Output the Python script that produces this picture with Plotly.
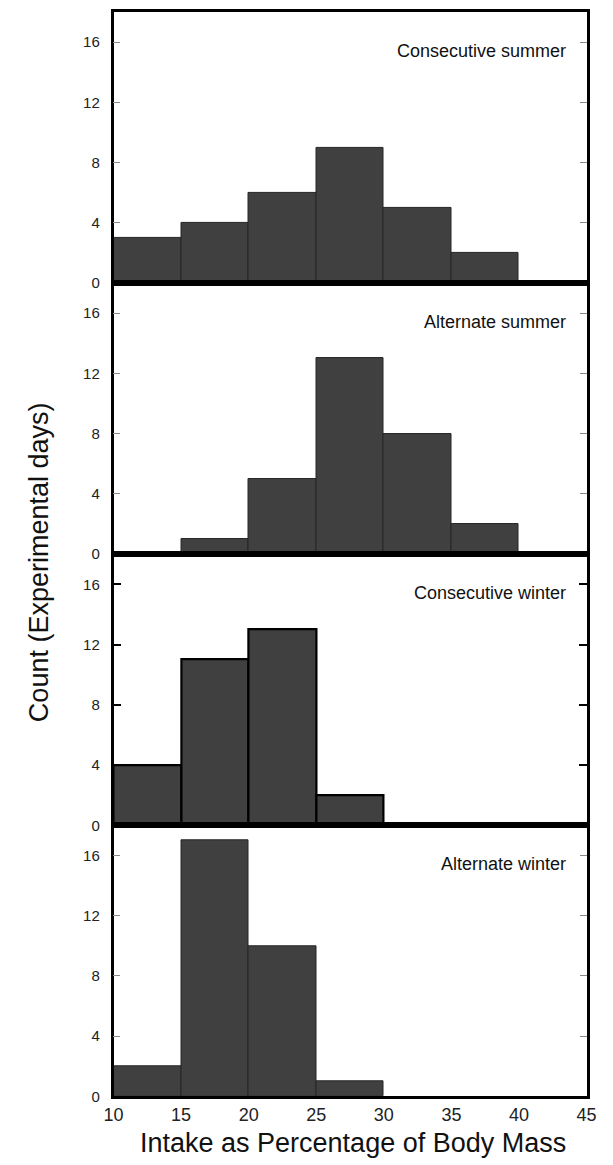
import plotly.graph_objects as go

# Data
bin_centers = [12.5, 17.5, 22.5, 27.5, 32.5, 37.5]
panel_labels = ["Consecutive summer", "Alternate summer", "Consecutive winter", "Alternate winter"]
consecutive_summer = [3, 4, 6, 9, 5, 2]
alternate_summer = [0, 1, 5, 13, 8, 2]
consecutive_winter = [4, 11, 13, 2, 0, 0]
alternate_winter = [2, 17, 10, 1, 0, 0]
y_ticks = [0, 4, 8, 12, 16]
x_ticks = [10, 15, 20, 25, 30, 35, 40, 45]

series = [consecutive_summer, alternate_summer, consecutive_winter, alternate_winter]

W, H = 613, 1165
left_px, right_px = 107, 596
top_px, panel_h = 12, 273

FONT = "Liberation Sans, Arial, sans-serif"
BAR = "#404040"

fig = go.Figure()
for i, vals in enumerate(series):
    n = i + 1
    thick = (i == 2)
    lw = 2.2 if thick else 1
    fig.add_trace(go.Bar(
        x=bin_centers, y=vals, width=5,
        marker=dict(color=BAR, line=dict(color="#000000" if thick else "#262626",
                                         width=[lw if v > 0 else 0 for v in vals])),
        xaxis=f"x{n}" if n > 1 else "x", yaxis=f"y{n}" if n > 1 else "y",
        showlegend=False, hoverinfo="x+y"))

    t = top_px + panel_h * i
    b = t + panel_h
    ydom = [1 - b / H, 1 - t / H]
    xkey = "xaxis" if n == 1 else f"xaxis{n}"
    ykey = "yaxis" if n == 1 else f"yaxis{n}"
    fig.layout[xkey] = dict(
        domain=[left_px / W, right_px / W], range=[10, 45],
        anchor="y" if n == 1 else f"y{n}",
        showgrid=False, zeroline=False,
        showline=True, linecolor="black", linewidth=2.5, mirror=True,
        tickvals=x_ticks, ticks="",
        showticklabels=(n == 4),
        tickfont=dict(family=FONT, size=18, color="#222"),
    )
    fig.layout[ykey] = dict(
        domain=ydom, range=[0, 18],
        anchor="x" if n == 1 else f"x{n}",
        showgrid=False, zeroline=False,
        showline=True, linecolor="black", linewidth=2.5, mirror="ticks",
        tickvals=y_ticks, ticks="inside",
        ticklen=8 if thick else 7,
        tickcolor="black" if thick else "#8a8a8a",
        tickwidth=2 if thick else 1,
        ticklabelstandoff=8,
        tickfont=dict(family=FONT, size=15, color="#222"),
    )
    fig.add_annotation(
        x=43.6, y=15.4, xref="x" if n == 1 else f"x{n}", yref="y" if n == 1 else f"y{n}",
        text=panel_labels[i], showarrow=False, xanchor="right", yanchor="middle",
        font=dict(family=FONT, size=18, color="#111"))

fig.add_annotation(
    x=355 / W, y=1 - 1151 / H, xref="paper", yref="paper",
    text="Intake as Percentage of Body Mass", showarrow=False,
    xanchor="center", yanchor="middle",
    font=dict(family=FONT, size=27, color="#111"))
fig.add_annotation(
    x=30 / W, y=1 - 566 / H, xref="paper", yref="paper",
    text="Count (Experimental days)", showarrow=False, textangle=-90,
    xanchor="center", yanchor="middle",
    font=dict(family=FONT, size=27, color="#111"))

fig.update_layout(
    width=W, height=H,
    margin=dict(l=0, r=0, t=0, b=0),
    paper_bgcolor="white", plot_bgcolor="white",
    bargap=0,
)

fig.write_html("out.html")
